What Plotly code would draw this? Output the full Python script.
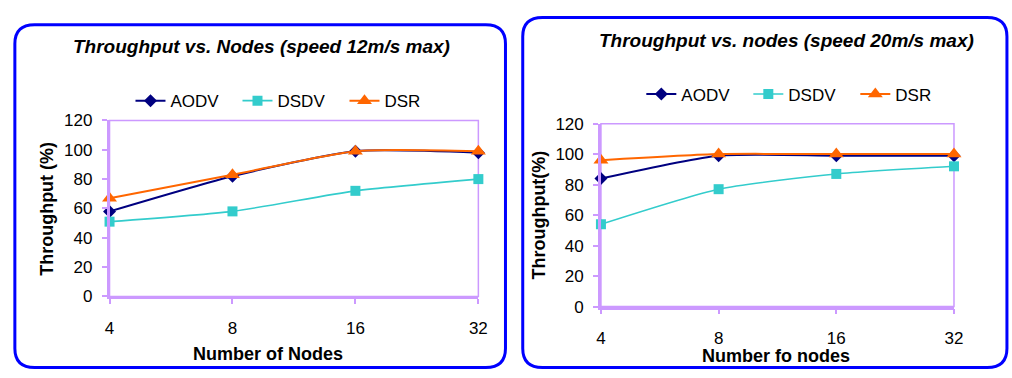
import plotly.graph_objects as go

W, H = 1012, 378

nodes = ["4", "8", "16", "32"]

# Left chart: speed 12 m/s max
aodv_12 = [58, 82, 99, 98]
dsdv_12 = [51, 58, 72, 80]
dsr_12 = [67, 83, 99, 99]

# Right chart: speed 20 m/s max
aodv_20 = [84, 99, 99, 99]
dsdv_20 = [54, 77, 87, 92]
dsr_20 = [96, 100, 100, 100]

series_names = ["AODV", "DSDV", "DSR"]
colors = {"AODV": "#000080", "DSDV": "#33CCCC", "DSR": "#FF6600"}
symbols = {"AODV": "diamond", "DSDV": "square", "DSR": "triangle-up"}
msizes = {"AODV": 10, "DSDV": 10, "DSR": 13}
lwidths = {"AODV": 2, "DSDV": 1.6, "DSR": 2}

FONT = "Liberation Sans, Arial, sans-serif"
LAV = "#CC99FF"


def px(x):
    return x / W


def py(y):
    return 1 - y / H


fig = go.Figure()

panels = [
    ("x", "y", "legend", [aodv_12, dsdv_12, dsr_12]),
    ("x2", "y2", "legend2", [aodv_20, dsdv_20, dsr_20]),
]
for xa, ya, lg, data in panels:
    for name, vals in zip(series_names, data):
        fig.add_trace(go.Scatter(
            x=nodes, y=vals, name=name, xaxis=xa, yaxis=ya, legend=lg,
            mode="lines+markers", cliponaxis=False,
            line=dict(color=colors[name], width=lwidths[name], shape="spline", smoothing=0.6),
            marker=dict(symbol=symbols[name], size=msizes[name], color=colors[name]),
        ))

# plot-area pixel boxes
L = dict(x0=106, x1=480, y0=117.3, y1=302.7)
R = dict(x0=604.3, x1=962.3, y0=120.7, y1=313.3)

xcommon = dict(type="category", categoryorder="array", categoryarray=nodes,
               range=[0, len(nodes) - 1], showgrid=False, zeroline=False, showline=True,
               linecolor=LAV, linewidth=2.5, ticks="outside", ticklen=5, tickwidth=2,
               tickcolor=LAV, ticklabelstandoff=9,
               tickfont=dict(family=FONT, size=17, color="black"))
ycommon = dict(range=[0, 120], dtick=20, showgrid=False, zeroline=False, showline=True,
               linecolor=LAV, linewidth=2.5, ticks="outside", ticklen=5, tickwidth=2,
               tickcolor=LAV, ticklabelstandoff=6,
               tickfont=dict(family=FONT, size=17, color="black"))

fig.update_layout(
    width=W, height=H,
    margin=dict(l=0, r=0, t=0, b=0),
    paper_bgcolor="white", plot_bgcolor="white",
    xaxis=dict(domain=[px(L["x0"]), px(L["x1"])], anchor="y", **xcommon),
    yaxis=dict(domain=[py(L["y1"]), py(L["y0"])], anchor="x", **ycommon),
    xaxis2=dict(domain=[px(R["x0"]), px(R["x1"])], anchor="y2", **xcommon),
    yaxis2=dict(domain=[py(R["y1"]), py(R["y0"])], anchor="x2", **ycommon),
    legend=dict(orientation="h", x=px(290), y=py(97), xanchor="center", yanchor="middle",
                bgcolor="rgba(0,0,0,0)", font=dict(family=FONT, size=17, color="black"),
                entrywidth=62, itemclick=False),
    legend2=dict(orientation="h", x=px(808), y=py(90), xanchor="center", yanchor="middle",
                 bgcolor="rgba(0,0,0,0)", font=dict(family=FONT, size=17, color="black"),
                 entrywidth=62, itemclick=False),
    showlegend=True,
)


def rrect(x0, y0, x1, y1, r):
    rx, ry = r / W, r / H
    X0, X1 = px(x0), px(x1)
    Y0, Y1 = py(y0), py(y1)  # Y0 top, Y1 bottom
    return (f"M {X0 + rx},{Y0} L {X1 - rx},{Y0} Q {X1},{Y0} {X1},{Y0 - ry} "
            f"L {X1},{Y1 + ry} Q {X1},{Y1} {X1 - rx},{Y1} "
            f"L {X0 + rx},{Y1} Q {X0},{Y1} {X0},{Y1 + ry} "
            f"L {X0},{Y0 - ry} Q {X0},{Y0} {X0 + rx},{Y0} Z")


shapes = [
    dict(type="path", xref="paper", yref="paper", path=rrect(10, 16.5, 507.5, 377.5, 20),
         line=dict(color="#0000FF", width=3)),
    dict(type="path", xref="paper", yref="paper", path=rrect(525, 9, 1016, 377.5, 20),
         line=dict(color="#0000FF", width=3)),
]
for box in (L, R):
    shapes.append(dict(type="rect", xref="paper", yref="paper",
                       x0=px(box["x0"]), x1=px(box["x1"]), y0=py(box["y1"]), y1=py(box["y0"]),
                       line=dict(color=LAV, width=1.5), layer="below"))
fig.update_layout(shapes=shapes)

ann = []
ann.append(dict(text="<b><i>Throughput vs. Nodes (speed 12m/s max)</i></b>", x=px(260), y=py(40)))
ann.append(dict(text="<b><i>Throughput vs. nodes (speed 20m/s max)</i></b>", x=px(792), y=py(33)))
ann.append(dict(text="<b>Number of Nodes</b>", x=px(267), y=py(363), size=18))
ann.append(dict(text="<b>Number fo nodes</b>", x=px(782), y=py(365), size=18))
ann.append(dict(text="<b>Throughput (%)</b>", x=px(43), y=py(210), size=18, angle=-90))
ann.append(dict(text="<b>Throughput(%)</b>", x=px(542), y=py(217), size=18, angle=-90))
for a in ann:
    fig.add_annotation(text=a["text"], x=a["x"], y=a["y"], xref="paper", yref="paper",
                       xanchor="center", yanchor="middle", showarrow=False,
                       textangle=a.get("angle", 0),
                       font=dict(family=FONT, size=a.get("size", 19), color="black"))

fig.write_html("out.html")
